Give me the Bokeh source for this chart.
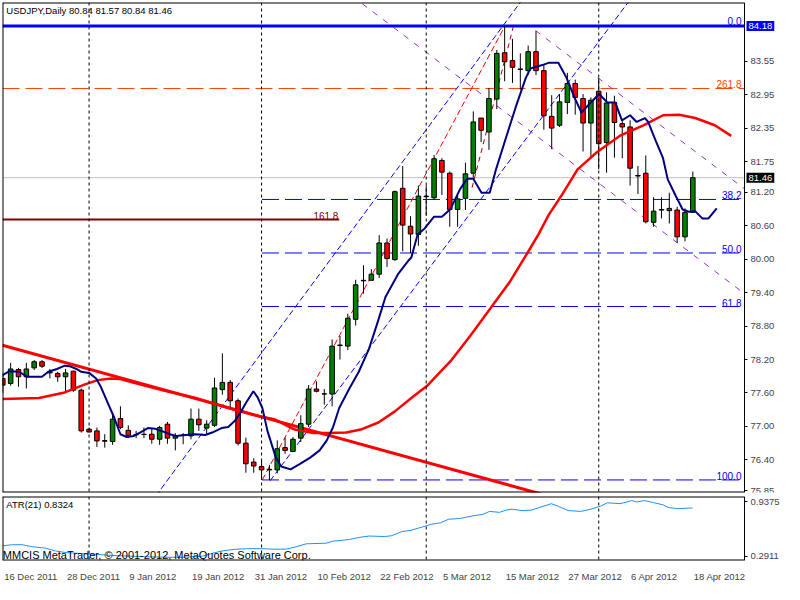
from bokeh.plotting import figure
from bokeh.models import Range1d, FixedTicker, Label, Span, ColumnDataSource, NumeralTickFormatter
from bokeh.layouts import column
from bokeh.core.properties import value
from bokeh.embed import file_html
from bokeh.resources import INLINE

FONT = "Liberation Sans"

# ---------------- data ----------------
opens = [77.86, 77.77, 78.02, 77.89, 78.05, 78.16, 77.96, 77.95, 77.89, 77.99,
         77.65, 76.95, 76.92, 76.745, 76.73, 77.14, 76.93, 76.855, 76.86, 76.86,
         76.77, 77.04, 76.79, 76.845, 76.83, 77.13, 76.97, 77.02, 77.66, 77.79,
         77.46, 76.70, 76.36, 76.28, 76.22, 76.22, 76.62, 76.55, 76.79, 77.04,
         77.67, 77.58, 77.58, 78.45, 78.44, 78.92, 79.61, 79.62, 79.73, 80.29,
         79.99, 81.27, 80.59, 80.44, 81.12, 81.10, 81.77, 81.54, 80.89, 81.09,
         81.54, 82.53, 82.28, 82.87, 83.70, 83.56, 83.40, 83.38, 83.72, 83.38,
         82.56, 82.40, 82.81, 83.15, 82.88, 82.44, 83.01, 82.09, 82.81, 82.43,
         82.37, 81.49, 81.54, 80.66, 80.88, 80.87, 80.88, 80.40, 80.84]
highs = [77.95, 78.14, 78.05, 78.14, 78.19, 78.19, 78.03, 77.98, 78.03, 78.00,
         77.68, 76.98, 76.98, 76.86, 77.24, 77.36, 77.02, 76.92, 76.98, 76.97,
         77.01, 77.08, 76.88, 76.88, 77.32, 77.32, 77.11, 77.87, 78.31, 77.83,
         77.50, 76.80, 76.43, 76.38, 76.31, 76.75, 76.80, 76.81, 77.20, 77.74,
         77.81, 77.67, 78.56, 78.62, 79.02, 79.63, 79.89, 79.82, 80.43, 80.37,
         81.23, 81.67, 80.77, 81.32, 81.32, 81.87, 81.81, 81.57, 81.14, 81.73,
         82.65, 82.53, 83.07, 83.75, 84.18, 83.95, 83.69, 83.83, 84.09, 83.48,
         82.94, 82.96, 83.34, 83.22, 82.96, 82.90, 83.25, 82.99, 82.93, 82.50,
         82.49, 81.67, 81.86, 81.11, 81.11, 81.19, 80.94, 80.91, 81.57]
lows = [77.60, 77.73, 77.71, 77.68, 78.01, 78.05, 77.86, 77.80, 77.60, 77.62,
        76.89, 76.89, 76.63, 76.62, 76.67, 76.95, 76.79, 76.79, 76.79, 76.69,
        76.67, 76.69, 76.57, 76.68, 76.77, 76.92, 76.87, 76.99, 77.57, 77.33,
        76.66, 76.17, 76.17, 76.04, 76.04, 76.16, 76.51, 76.54, 76.72, 76.99,
        77.61, 77.39, 77.36, 78.20, 78.37, 78.81, 79.38, 79.62, 79.66, 79.86,
        79.97, 80.14, 80.11, 80.24, 80.78, 81.06, 81.15, 80.58, 80.58, 80.88,
        81.46, 82.10, 81.96, 82.69, 83.19, 83.16, 83.04, 83.31, 83.30, 82.32,
        81.97, 82.37, 82.60, 82.59, 81.93, 81.81, 81.61, 81.55, 81.82, 81.81,
        81.32, 81.17, 80.64, 80.58, 80.73, 80.64, 80.29, 80.32, 80.84]
closes = [77.74, 78.03, 77.89, 78.03, 78.16, 78.08, 77.98, 77.89, 77.96, 77.65,
          76.92, 76.90, 76.74, 76.735, 77.13, 76.98, 76.84, 76.85, 76.855, 76.77,
          76.98, 76.79, 76.83, 76.84, 77.13, 77.03, 77.04, 77.69, 77.79, 77.46,
          76.70, 76.33, 76.29, 76.22, 76.23, 76.60, 76.57, 76.77, 77.05, 77.67,
          77.63, 77.585, 78.44, 78.46, 78.94, 79.54, 79.62, 79.73, 80.29, 80.01,
          81.21, 80.61, 80.45, 81.13, 81.13, 81.80, 81.56, 80.89, 81.08, 81.53,
          82.46, 82.31, 82.88, 83.69, 83.54, 83.44, 83.41, 83.72, 83.38, 82.57,
          82.35, 82.82, 83.15, 82.90, 82.44, 82.85, 82.07, 82.80, 82.45, 82.37,
          81.63, 81.50, 80.67, 80.86, 80.89, 80.91, 80.40, 80.84, 81.46]
bar_idx = list(range(len(closes)))

# navy fast moving average (bar index, price)
fast_ma_x = [0, 0.83, 2.1, 3.1, 5, 5.8, 6.9, 7.9, 8.5, 9.4, 10, 11, 11.9, 12.5, 13.3, 14.2,
             15, 15.8, 16.7, 17.5, 18.5, 19.4, 20.4, 21.3, 22.1, 23.3, 24.6, 25.8, 26.7,
             27.9, 28.75, 29.6, 30.4, 31, 31.95, 32.5, 33.1, 33.75, 34.8, 35.5, 36.7, 37.9,
             39.2, 40.4, 41.3, 42.1, 42.9, 44.2, 45.4, 46.7, 47.9, 48.8, 50.4, 51.7, 52.1,
             52.9, 53.8, 55, 56, 57.1, 58.3, 59.2, 60, 61.05, 62.1, 62.9, 64.2, 65.4, 66.7,
             67.3, 68.8, 69.6, 70.85, 71.9, 72.9, 73.8, 75.0, 76.05, 77.1, 78.1, 78.96, 80.0,
             80.84, 81.9, 82.3, 83.3, 84.2, 84.8, 85.8, 86.7, 87.5, 88.3, 89.2, 90.0, 91.05]
fast_ma_y = [77.92, 77.99, 77.98, 77.89, 77.89, 77.98, 78.03, 78.09, 78.08, 78.03, 77.98,
             77.96, 77.86, 77.71, 77.45, 77.16, 76.86, 76.81, 76.83, 76.89, 76.97, 76.96,
             76.91, 76.86, 76.83, 76.845, 76.86, 76.845, 76.89, 76.97, 76.99, 77.10, 77.27,
             77.42, 77.63, 77.52, 77.33, 76.92, 76.45, 76.28, 76.23, 76.33, 76.44, 76.57,
             76.745, 76.98, 77.33, 77.68, 77.98, 78.39, 78.91, 79.32, 79.73, 79.97, 80.03,
             80.44, 80.55, 80.76, 80.76, 80.90, 81.25, 81.44, 81.44, 81.19, 81.19, 81.61,
             82.19, 82.72, 83.25, 83.42, 83.48, 83.52, 83.52, 83.25, 82.90, 82.63, 82.81,
             82.96, 82.81, 82.81, 82.49, 82.58, 82.46, 82.53, 82.46, 82.11, 81.81, 81.43,
             81.14, 80.89, 80.85, 80.86, 80.73, 80.73, 80.91]

# red slow moving average (bar index, price)
slow_ma_x = [-0.04, 4.6, 7.9, 10.4, 12.1, 13.75, 15, 16.25, 20.4, 24.6, 28.75, 32.1, 34.6,
             37.1, 39.6, 41.3, 43.8, 45.8, 47.9, 50, 52.1, 54.2, 55.4, 57.1, 59.6, 62.1,
             64.6, 66.9, 68.3, 69.6, 71.25, 73.3, 75.8, 78.8, 81.7, 84.2, 86.25, 88.3,
             90.8, 92.9]
slow_ma_y = [77.49, 77.51, 77.61, 77.75, 77.83, 77.86, 77.85, 77.80, 77.65, 77.51, 77.33,
             77.20, 77.13, 76.95, 76.88, 76.88, 76.89, 76.95, 77.07, 77.27, 77.51, 77.74,
             77.92, 78.17, 78.62, 79.10, 79.58, 80.11, 80.44, 80.79, 81.14, 81.61, 81.92,
             82.22, 82.40, 82.58, 82.59, 82.53, 82.40, 82.21]

# ATR(21) (bar index, value)
atr_x = [-0.04, 1.21, 2.46, 3.71, 5.46, 6.71, 7.96, 10.46, 12.09, 13.71, 16.21, 18.34,
         21.21, 22.96, 25.46, 26.71, 27.96, 29.59, 31.21, 32.96, 34.96, 36.21, 37.46,
         38.71, 41.21, 42.09, 44.21, 45.46, 46.71, 48.71, 49.59, 50.84, 52.09, 53.34,
         54.59, 55.84, 56.84, 58.34, 59.96, 61.21, 62.09, 63.34, 64.21, 64.96, 66.21,
         67.46, 68.34, 69.96, 70.84, 72.09, 73.71, 74.96, 76.21, 77.09, 78.71, 79.59,
         80.21, 80.84, 81.84, 82.96, 84.21, 84.96, 86.21, 87.96]
atr_y = [0.414, 0.427, 0.427, 0.404, 0.386, 0.353, 0.335, 0.319, 0.312, 0.301, 0.291,
         0.284, 0.278, 0.278, 0.291, 0.325, 0.353, 0.373, 0.380, 0.380, 0.373, 0.376,
         0.404, 0.438, 0.445, 0.469, 0.489, 0.514, 0.530, 0.524, 0.534, 0.581, 0.599,
         0.633, 0.668, 0.688, 0.729, 0.739, 0.770, 0.787, 0.822, 0.811, 0.838, 0.848,
         0.832, 0.838, 0.866, 0.914, 0.883, 0.832, 0.822, 0.848, 0.883, 0.924, 0.914,
         0.934, 0.951, 0.934, 0.951, 0.927, 0.900, 0.866, 0.855, 0.863]

# drawn objects (bar index, price)
trend_x = [-0.04, 69.0]
trend_y = [78.456, 75.775]
chan1_x = [19.5, 66.5]
chan1_y = [75.75, 84.70]
chan2_x = [34.09, 80.2]
chan2_y = [76.025, 84.69]
swing_x = [33.09, 63.96]
swing_y = [76.04, 84.16]
steep_x = [59.84, 65.09]
steep_y = [81.28, 84.16]
pch1_x = [45.84, 94.59]
pch1_y = [84.58, 79.38]
pch2_x = [67.93, 94.59]
pch2_y = [84.10, 81.26]

fib_start = 33.05
fib_names = ["38.2", "50.0", "61.8", "100.0"]
fib_levels = [81.07, 80.11, 79.15, 76.04]
top_level = 84.18
ext_2618 = 83.06
ext_1618 = 80.71
ext_1618_end = 42.9
last_price = 81.46

separators = [11, 33, 54, 76]
price_ticks = [83.55, 82.95, 82.35, 81.75, 81.20, 80.60, 80.00, 79.40, 78.80, 78.20,
               77.60, 77.00, 76.40, 75.85]
date_ticks = [0, 8, 16, 24, 32, 40, 48, 56, 64, 72, 80, 88]
date_labels = ["16 Dec 2011", "28 Dec 2011", "9 Jan 2012", "19 Jan 2012", "31 Jan 2012",
               "10 Feb 2012", "22 Feb 2012", "5 Mar 2012", "15 Mar 2012", "27 Mar 2012",
               "6 Apr 2012", "18 Apr 2012"]
atr_ticks = [0.9375, 0.2911]

# ---------------- geometry ----------------
X0 = -0.04          # left edge of the data area
XR = 94.59          # right edge of the data area (price scale line)
PX_PER_BAR = 742.0 / (XR - X0)
XF = X0 + 782.0 / PX_PER_BAR   # frame extends under the price scale
Y_BOT, Y_TOP = 75.815, 84.602
A_BOT, A_TOP = 0.2398, 0.999
DATE_FS = 9.5

# MetaTrader writes date labels to the right of their tick: centre each label
_W = {" ": 0.278, "D": 0.722, "e": 0.556, "c": 0.5, "J": 0.5, "a": 0.556, "n": 0.556,
      "F": 0.611, "b": 0.556, "M": 0.833, "r": 0.333, "A": 0.667, "p": 0.556}


def _half_width_bars(s):
    w = sum(_W.get(ch, 0.556) for ch in s) * DATE_FS
    return (w / 2.0 + 1.0) / PX_PER_BAR


label_pos = [round(t + _half_width_bars(l), 3) for t, l in zip(date_ticks, date_labels)]


def frame_border(fig, ybot, ytop):
    fig.segment(x0=[X0, X0], y0=[ybot, ytop], x1=[XR, XR], y1=[ybot, ytop],
                line_color="black", line_width=2)
    fig.segment(x0=[X0], y0=[ybot], x1=[X0], y1=[ytop], line_color="black", line_width=2)


def style_price_axis(ax, ticks, fmt):
    ax.ticker = FixedTicker(ticks=ticks)
    ax.formatter = NumeralTickFormatter(format=fmt)
    ax.fixed_location = XR
    ax.major_tick_out = 3
    ax.major_tick_in = 0
    ax.minor_tick_line_color = None
    ax.axis_line_color = "black"
    ax.major_label_text_font = FONT
    ax.major_label_text_font_size = "9.5px"
    ax.major_label_standoff = 3


# ---------------- main price panel ----------------
p = figure(width=784, height=495, x_range=Range1d(X0, XF), y_range=Range1d(Y_BOT, Y_TOP),
           x_axis_location=None, y_axis_location="right", output_backend="svg",
           toolbar_location=None, min_border_left=2, min_border_right=0,
           min_border_top=2, min_border_bottom=3)
p.xgrid.visible = False
p.ygrid.visible = False
p.outline_line_color = None
p.background_fill_color = "white"
p.border_fill_color = "white"
style_price_axis(p.yaxis[0], price_ticks, "0.00")

for s in separators:
    p.add_layout(Span(location=s, dimension="height", line_color="black",
                      line_dash="3 3", line_width=1))

# horizontal levels
p.segment(x0=[X0], y0=[last_price], x1=[XR], y1=[last_price], line_color="#C0C0C0", line_width=1)
p.segment(x0=[X0], y0=[ext_2618], x1=[XR], y1=[ext_2618], line_color="#FF4500",
          line_width=1, line_dash="17 6")
p.segment(x0=[X0], y0=[ext_1618], x1=[ext_1618_end], y1=[ext_1618], line_color="#800000",
          line_width=2)
p.segment(x0=[fib_start] * len(fib_levels), y0=fib_levels, x1=[XR] * len(fib_levels),
          y1=fib_levels, line_color="#0000FF", line_width=1, line_dash="17 6")
p.segment(x0=[X0], y0=[top_level], x1=[XR], y1=[top_level], line_color="#0000FF", line_width=3)

# diagonal drawn lines
p.line(chan1_x, chan1_y, line_color="#0000FF", line_width=1, line_dash="6 3")
p.line(chan2_x, chan2_y, line_color="#0000FF", line_width=1, line_dash="6 3")
p.line(swing_x, swing_y, line_color="#FF0000", line_width=1, line_dash="6 3")
p.line(steep_x, steep_y, line_color="#A00000", line_width=1, line_dash="5 4")
p.line(pch1_x, pch1_y, line_color="#9932CC", line_width=1, line_dash="6 7")
p.line(pch2_x, pch2_y, line_color="#9932CC", line_width=1, line_dash="6 7")
p.line(trend_x, trend_y, line_color="#FF0000", line_width=3)

# candles
tops, bots, fills = [], [], []
for o, c in zip(opens, closes):
    tops.append(max(o, c))
    bots.append(min(o, c))
    if abs(c - o) < 0.015:
        fills.append("black")
    elif c > o:
        fills.append("#008000")
    else:
        fills.append("#FF0000")
src = ColumnDataSource(dict(x=bar_idx, high=highs, low=lows, top=tops, bottom=bots, fill=fills))
p.segment(x0="x", y0="low", x1="x", y1="high", source=src, line_color="black", line_width=1)
p.vbar(x="x", width=0.58, top="top", bottom="bottom", source=src, fill_color="fill",
       line_color="black", line_width=1)

# moving averages
p.line(slow_ma_x, slow_ma_y, line_color="#FF0000", line_width=2.5)
p.line(fast_ma_x, fast_ma_y, line_color="#000080", line_width=2)

frame_border(p, Y_BOT, Y_TOP)

# level captions
p.text(x=[94.2] * len(fib_levels), y=fib_levels, text=fib_names, text_align="right",
       text_baseline="bottom", text_color="#0000FF", text_font=value(FONT),
       text_font_size="10px")
p.text(x=[94.2], y=[top_level], text=["0.0"], text_align="right", text_baseline="bottom",
       y_offset=-1, text_color="#0000FF", text_font=value(FONT), text_font_size="10px")
p.text(x=[94.2], y=[ext_2618], text=["261.8"], text_align="right", text_baseline="bottom",
       text_color="#FF4500", text_font=value(FONT), text_font_size="10px")
p.text(x=[ext_1618_end - 0.1], y=[ext_1618], text=["161.8"], text_align="right",
       text_baseline="bottom", text_color="#800000", text_font=value(FONT),
       text_font_size="10px")

p.add_layout(Label(x=0.45, y=84.45, text="USDJPY,Daily  80.84 81.57 80.84 81.46",
                   text_font=FONT, text_font_size="9.5px", text_color="black",
                   text_baseline="middle"))
p.add_layout(Label(x=XR, y=top_level, x_offset=2, text="84.18", text_font=FONT,
                   text_font_size="9.5px", text_color="white", text_baseline="middle",
                   background_fill_color="#0000FF", padding=2))
p.add_layout(Label(x=XR, y=last_price, x_offset=2, text="81.46", text_font=FONT,
                   text_font_size="9.5px", text_color="white", text_baseline="middle",
                   background_fill_color="black", padding=2))

# ---------------- ATR panel ----------------
a = figure(width=784, height=89, x_range=p.x_range, y_range=Range1d(A_BOT, A_TOP),
           y_axis_location="right", output_backend="svg", toolbar_location=None,
           min_border_left=2, min_border_right=0, min_border_top=1, min_border_bottom=0)
a.xgrid.visible = False
a.ygrid.visible = False
a.outline_line_color = None
a.background_fill_color = "white"
a.border_fill_color = "white"

xa = a.xaxis[0]
xa.ticker = FixedTicker(ticks=label_pos)
xa.major_label_overrides = {t: l for t, l in zip(label_pos, date_labels)}
xa.major_tick_line_color = None
xa.minor_tick_line_color = None
xa.axis_line_color = None
xa.major_label_text_font = FONT
xa.major_label_text_font_size = "9.5px"
xa.major_label_standoff = 4

style_price_axis(a.yaxis[0], atr_ticks, "0.0000")

for s in separators:
    a.add_layout(Span(location=s, dimension="height", line_color="black",
                      line_dash="3 3", line_width=1))
a.line(atr_x, atr_y, line_color="#1E90FF", line_width=1)
frame_border(a, A_BOT, A_TOP)
a.add_layout(Label(x=0.45, y=0.905, text="ATR(21) 0.8324", text_font=FONT,
                   text_font_size="9.5px", text_color="black", text_baseline="middle"))
a.add_layout(Label(x=0.0, y=0.305, text="MMCIS MetaTrader, \u00a9 2001-2012, MetaQuotes Software Corp.",
                   text_font=FONT, text_font_size="11px", text_color="black",
                   text_baseline="middle"))

layout = column(p, a, spacing=0)
open("out.html", "w").write(file_html(layout, INLINE))
